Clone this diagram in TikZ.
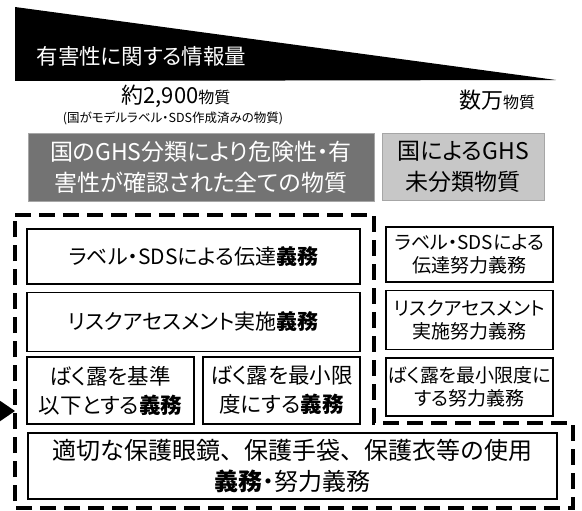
\documentclass[tikz,border=0pt]{standalone}
\usepackage{fontspec}
\setmainfont{Noto Sans CJK JP}[RawFeature=+palt]
\newfontfamily\widejp{Noto Sans CJK JP}
\usetikzlibrary{positioning, arrows.meta}

\begin{document}
\begin{tikzpicture}
    [
        x=1pt, y=1pt,
        basic/.style = {draw, line width=1.5pt, align=center, inner sep=0pt},
        duty/.style = {basic, font=\fontsize{21}{25}\selectfont},
        effort/.style = {basic, minimum width=167pt, font=\fontsize{19}{23.5}\selectfont},
        graybox/.style = {draw=gray!70, inner sep=0pt, align=center, font=\fontsize{23}{31}\selectfont},
        fence/.style = {line width=4.5pt, dash pattern=on 16pt off 8pt},
        >={Triangle[length=15pt, width=20pt]}
    ]
    \useasboundingbox (0,0) rectangle (582,-511);

    % amount of hazard information
    \fill (15,-7) -- (556,-80) -- (15,-81) -- cycle;
    \node [anchor=west, text=white, font=\fontsize{21.5}{22}\selectfont] (info) at (33,-56) {有害性に関する情報量};

    \node [font=\fontsize{22}{24}\selectfont] (many) at (176,-96) {約2,900{\fontsize{16}{16}\selectfont 物質}};
    \node [font=\fontsize{12.5}{13}\selectfont] (manynote) at (173,-118) {(国がモデルラベル・SDS作成済みの物質)};
    \node [font=\fontsize{22}{24}\selectfont] (few) at (497,-100) {数万{\fontsize{16}{16}\selectfont 物質}};

    \node [graybox, fill=black!55, text=white, minimum width=346pt, minimum height=68pt] (known) at (201,-167) {国のGHS分類により危険性・有\\害性が確認された全ての物質};
    \node [graybox, fill=black!22, minimum width=162pt, minimum height=67pt] (unknown) at (463,-166.5) {国によるGHS\\未分類物質};

    % obligations
    \node [duty, minimum width=333pt, minimum height=55pt] (lab) at (193.5,-256.5) {ラベル・SDSによる伝達\textbf{義務}};
    \node [duty, minimum width=333pt, minimum height=59pt, below=7pt of lab] (risk) {リスクアセスメント実施\textbf{義務}};
    \node [duty, minimum width=167pt, minimum height=67pt, font=\fontsize{21.5}{29}\selectfont] (limit) at (110.5,-390.5) {ばく露を基準\\以下とする\textbf{義務}};
    \node [duty, minimum width=157pt, minimum height=67pt, font=\fontsize{21.5}{29}\selectfont] (least) at (281.5,-390.5) {ばく露を最小限\\度にする\textbf{義務}};

    \node [effort, minimum height=55pt] (rlab) at (469.5,-254.5) {ラベル・SDSによる\\伝達努力義務};
    \node [effort, minimum height=59pt, below=7pt of rlab] (rrisk) {リスクアセスメント\\実施努力義務};
    \node [effort, minimum height=58pt, below=7pt of rrisk] (rleast) {ばく露を最小限度に\\する努力義務};

    \node [duty, minimum width=529pt, minimum height=66pt, font=\fontsize{24}{31}\selectfont] (protect) at (292.5,-466) {{\widejp 適切な保護眼鏡、保護手袋、保護衣等の使用}\\\textbf{義務}・努力義務};

    \draw [fence] (15,-215) -- (374,-215) -- (374,-423) -- (573,-423) -- (573,-508) -- (15,-508) -- cycle;

    \coordinate (arrowfrom) at (-30,-411);
    \coordinate (arrowto) at (15,-411);
    \draw [->, line width=2pt] (arrowfrom) -- (arrowto);

\end{tikzpicture}
\end{document}
